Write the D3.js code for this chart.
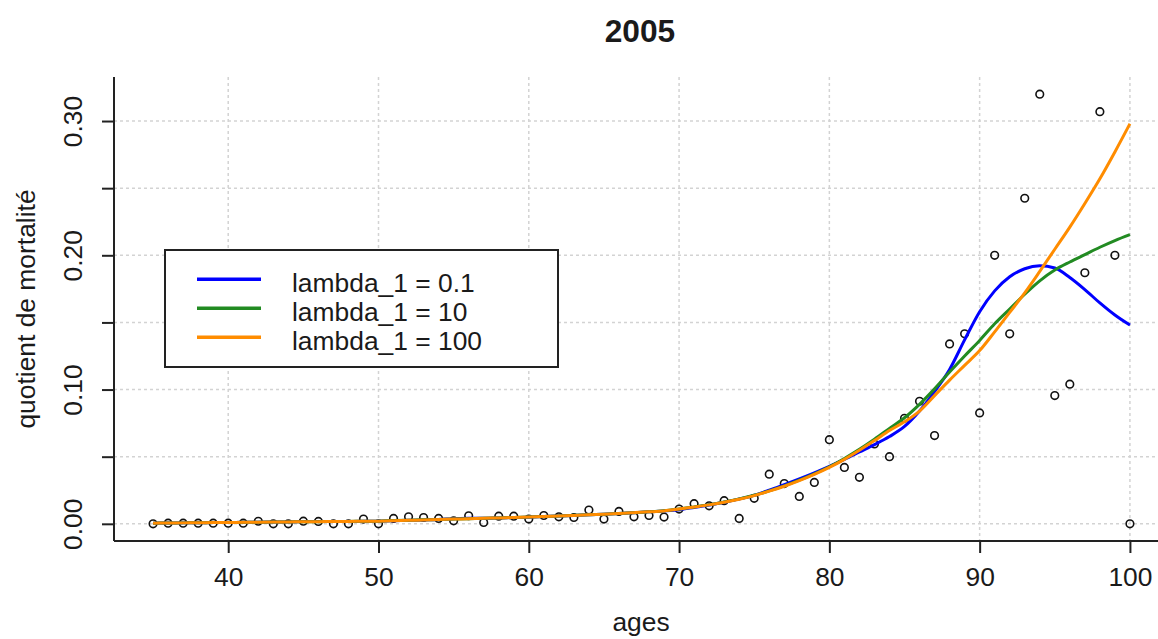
<!DOCTYPE html>
<html>
<head>
<meta charset="utf-8">
<script src="https://cdn.jsdelivr.net/npm/d3@7"></script>
<style>
    body { margin: 0; background: #fff; }
    svg text { font-family: "Liberation Sans", Arial, sans-serif; fill: #1a1a1a; }
</style>
</head>
<body>
<div class="plot-container"></div>
<script>
// ages 35..100
const ages = d3.range(35, 101);

// observed mortality quotients (circles)
const observed = [
    0, 0.0005, 0.0005, 0.0005, 0.0005, 0.0005, 0.0005, 0.0019, 0, 0,
    0.002, 0.0018, 0, 0, 0.0035, 0, 0.004, 0.0052, 0.0047, 0.004,
    0.0022, 0.006, 0.001, 0.0057, 0.0057, 0.0035, 0.0062, 0.0052, 0.0047, 0.0102,
    0.0035, 0.0092, 0.0052, 0.0062, 0.005, 0.011, 0.015, 0.0134, 0.0172, 0.004,
    0.019, 0.037, 0.030, 0.0204, 0.0308, 0.0627, 0.042, 0.0346, 0.0595, 0.050,
    0.0786, 0.0913, 0.0657, 0.134, 0.1415, 0.0826, 0.200, 0.1415, 0.2425, 0.320,
    0.0955, 0.104, 0.187, 0.307, 0.200, 0
];

// smoothed curves
const fitLambda01 = [
    0.0005, 0.0006, 0.0007, 0.0008, 0.0009, 0.0010, 0.0011, 0.0012, 0.0013, 0.0014,
    0.0017, 0.0018, 0.0018, 0.0018, 0.0019, 0.0020, 0.0023, 0.0026, 0.0029, 0.0032,
    0.0038, 0.0042, 0.0042, 0.0044, 0.0047, 0.0049, 0.0054, 0.0058, 0.0062, 0.0067,
    0.0072, 0.0077, 0.0083, 0.0090, 0.0096,
    0.0105, 0.0122, 0.0140, 0.0160, 0.0185, 0.0212, 0.0250, 0.0292, 0.0335, 0.0380,
    0.0428, 0.0480, 0.0535, 0.0590, 0.0650, 0.0725, 0.0840, 0.0985, 0.1150, 0.1370,
    0.1580, 0.1735, 0.1840, 0.1900, 0.1922, 0.1905, 0.1835, 0.1745, 0.1645, 0.1555,
    0.1480
];
const fitLambda10 = [
    0.0005, 0.0006, 0.0007, 0.0008, 0.0009, 0.0010, 0.0011, 0.0012, 0.0013, 0.0014,
    0.0015, 0.0016, 0.0017, 0.0018, 0.0019, 0.0020, 0.0024, 0.0027, 0.0030, 0.0032,
    0.0035, 0.0038, 0.0042, 0.0044, 0.0047, 0.0050, 0.0054, 0.0058, 0.0063, 0.0067,
    0.0072, 0.0077, 0.0083, 0.0089, 0.0097,
    0.0110, 0.0126, 0.0143, 0.0163, 0.0186, 0.0213, 0.0245, 0.0283, 0.0325, 0.0372,
    0.0425, 0.0487, 0.0555, 0.0630, 0.0710, 0.0790, 0.0890, 0.1005, 0.1130, 0.1250,
    0.1366, 0.1490, 0.1600, 0.1710, 0.1810, 0.1890, 0.1950, 0.2005, 0.2060, 0.2110,
    0.2154
];
const fitLambda100 = [
    0.0005, 0.0006, 0.0007, 0.0008, 0.0009, 0.0010, 0.0011, 0.0012, 0.0013, 0.0014,
    0.0015, 0.0016, 0.0017, 0.0018, 0.0019, 0.0020, 0.0023, 0.0026, 0.0029, 0.0032,
    0.0035, 0.0038, 0.0041, 0.0044, 0.0047, 0.0050, 0.0054, 0.0058, 0.0062, 0.0067,
    0.0072, 0.0077, 0.0083, 0.0089, 0.0096,
    0.0110, 0.0125, 0.0141, 0.0160, 0.0183, 0.0210, 0.0243, 0.0280, 0.0322, 0.0368,
    0.0420, 0.0480, 0.0548, 0.0620, 0.0695, 0.0760, 0.0840, 0.0955, 0.1070, 0.1180,
    0.1290, 0.1430, 0.1575, 0.1720, 0.1880, 0.2045, 0.2210, 0.2386, 0.2570, 0.2770,
    0.2980
];

const seriesNames = ["lambda_1 = 0.1", "lambda_1 = 10", "lambda_1 = 100"];
const seriesColors = ["#0000ff", "#228b22", "#ff8c00"];
const seriesValues = [fitLambda01, fitLambda10, fitLambda100];

const xTicks = [40, 50, 60, 70, 80, 90, 100];
const yTicks = [0, 0.05, 0.10, 0.15, 0.20, 0.25, 0.30];
const yLabelTicks = [0, 0.10, 0.20, 0.30];

const width = 1158, height = 639;
const svg = d3.select(".plot-container").append("svg")
    .attr("width", width).attr("height", height);

// R style: 4% extension of the data range
const x = d3.scaleLinear().domain([32.4, 102.6]).range([114, 1169]);
const y = d3.scaleLinear().domain([-0.0128, 0.3328]).range([541, 77]);

// grid
svg.append("g").selectAll("line").data(xTicks).join("line")
    .attr("x1", d => x(d)).attr("x2", d => x(d))
    .attr("y1", y.range()[1]).attr("y2", y.range()[0])
    .attr("stroke", "#d3d3d3").attr("stroke-width", 1.5)
    .attr("stroke-dasharray", "3,3");
svg.append("g").selectAll("line").data(yTicks).join("line")
    .attr("x1", x.range()[0]).attr("x2", x.range()[1])
    .attr("y1", d => y(d)).attr("y2", d => y(d))
    .attr("stroke", "#d3d3d3").attr("stroke-width", 1.5)
    .attr("stroke-dasharray", "3,3");

// axes
const xAxis = svg.append("g")
    .attr("transform", "translate(0," + y.range()[0] + ")")
    .call(d3.axisBottom(x).tickValues(xTicks).tickSize(12).tickPadding(14));
const yAxis = svg.append("g")
    .attr("transform", "translate(" + x.range()[0] + ",0)")
    .call(d3.axisLeft(y).tickValues(yTicks).tickSize(12)
        .tickFormat(d => yLabelTicks.some(v => Math.abs(v - d) < 1e-9) ? d3.format(".2f")(d) : ""));

[xAxis, yAxis].forEach(a => {
    a.select(".domain").attr("stroke", "#222").attr("stroke-width", 2)
        .attr("d", a === xAxis ? "M" + x.range()[0] + ",0H" + x.range()[1] : "M0," + y.range()[1] + "V" + y.range()[0]);
    a.selectAll(".tick line").attr("stroke", "#222").attr("stroke-width", 2);
    a.selectAll(".tick text").style("font-size", "26.4px").attr("fill", "#1a1a1a");
});
xAxis.selectAll(".tick text").attr("dy", 0).attr("y", 45);
yAxis.selectAll(".tick text")
    .attr("x", null).attr("dy", 0)
    .attr("transform", "translate(-32,0) rotate(-90)")
    .style("text-anchor", "middle");

// observed points
svg.append("g").selectAll("circle").data(ages).join("circle")
    .attr("cx", d => x(d))
    .attr("cy", (d, i) => y(observed[i]))
    .attr("r", 3.8)
    .attr("fill", "none").attr("stroke", "#111").attr("stroke-width", 1.6);

// fitted curves
const line = d3.line().x(d => x(d[0])).y(d => y(d[1])).curve(d3.curveMonotoneX);
seriesValues.forEach((vals, k) => {
    svg.append("path")
        .datum(ages.map((a, i) => [a, vals[i]]))
        .attr("d", line)
        .attr("fill", "none")
        .attr("stroke", seriesColors[k])
        .attr("stroke-width", 3);
});

// title and labels
svg.append("text").attr("x", 640).attr("y", 42)
    .style("text-anchor", "middle").style("font-size", "31.7px").style("font-weight", "bold")
    .text("2005");
svg.append("text").attr("x", 641).attr("y", 631)
    .style("text-anchor", "middle").style("font-size", "26.4px")
    .text("ages");
svg.append("text")
    .attr("transform", "translate(35," + ((y.range()[0] + y.range()[1]) / 2) + ") rotate(-90)")
    .style("text-anchor", "middle").style("font-size", "26.4px")
    .text("quotient de mortalité");

// legend
const legend = svg.append("g");
legend.append("rect")
    .attr("x", 165).attr("y", 250).attr("width", 393).attr("height", 117)
    .attr("fill", "#fff").attr("stroke", "#222").attr("stroke-width", 2);
seriesNames.forEach((name, k) => {
    const ly = 279.3 + k * 29;
    legend.append("line")
        .attr("x1", 197).attr("x2", 261).attr("y1", ly).attr("y2", ly)
        .attr("stroke", seriesColors[k]).attr("stroke-width", 3.5);
    legend.append("text")
        .attr("x", 292).attr("y", ly + 13)
        .style("font-size", "26.4px")
        .text(name);
});
</script>
</body>
</html>
